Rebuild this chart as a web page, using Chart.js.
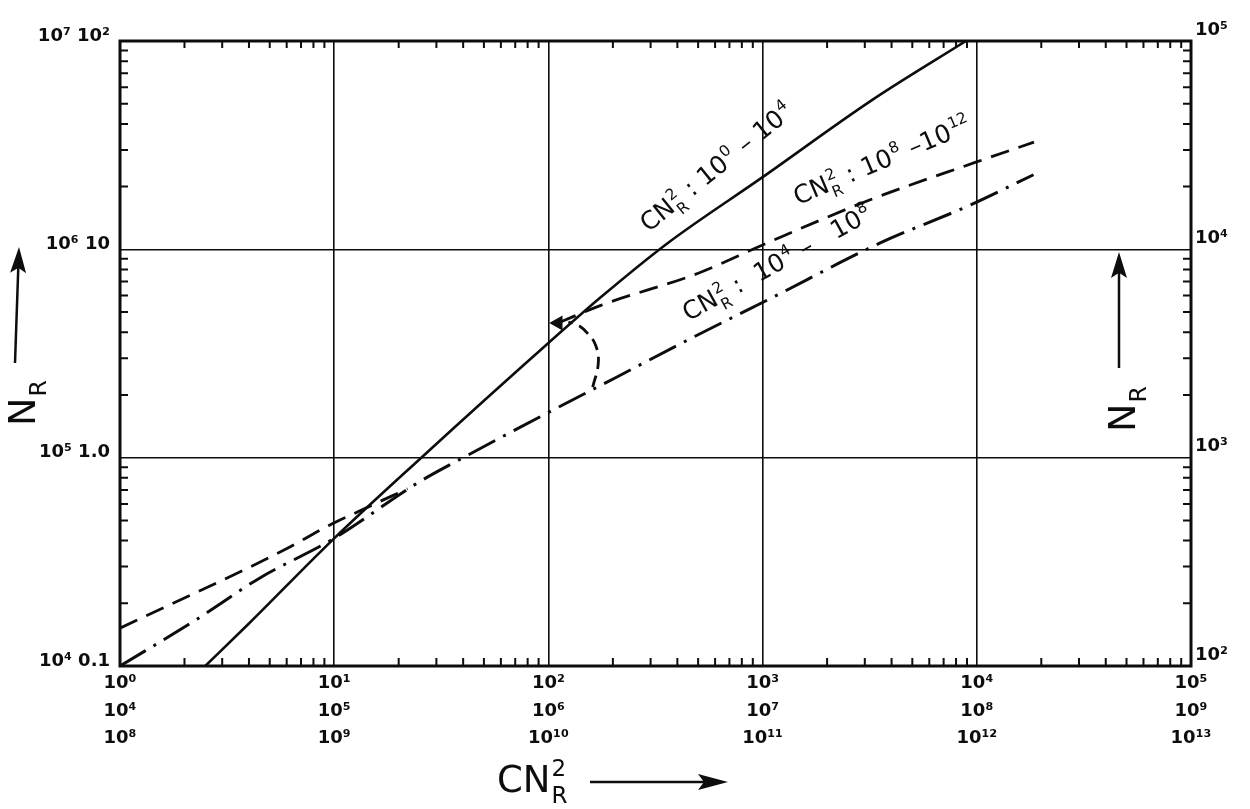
<!DOCTYPE html>
<html>
<head>
<meta charset="utf-8">
<script src="https://cdn.jsdelivr.net/npm/chart.js@4.4.1/dist/chart.umd.min.js"></script>
<style>
  html, body { margin: 0; padding: 0; background: #fff; }
  canvas { display: block; }
</style>
</head>
<body>
<canvas id="chart" width="1250" height="809"></canvas>
<script>
// decade ticks, three x rows (one per curve range)
const xTicks = [1, 10, 100, 1000, 10000, 100000];
const xTickLabels = [
  ["10⁰", "10⁴", "10⁸"],
  ["10¹", "10⁵", "10⁹"],
  ["10²", "10⁶", "10¹⁰"],
  ["10³", "10⁷", "10¹¹"],
  ["10⁴", "10⁸", "10¹²"],
  ["10⁵", "10⁹", "10¹³"]
];
const yTicks = [0.1, 1, 10, 100];
const yTickLabels = ["10⁴ 0.1", "10⁵ 1.0", "10⁶ 10", "10⁷ 10²"];
const y2Ticks = [100, 1000, 10000, 100000];
const y2TickLabels = ["10²", "10³", "10⁴", "10⁵"];

// CN_R^2 : 10^0 - 10^4  (solid)
const solidX = [2.5, 4, 10, 25.5, 100, 176, 360, 1000, 3240, 8900];
const solidY = [0.1, 0.16, 0.41, 1.0, 3.55, 5.9, 10.7, 22.2, 52, 100];

// CN_R^2 : 10^8 - 10^12  (dashed, upper branch and low end)
const dashUpperX = [111, 177, 504, 1000, 3180, 9900, 18500];
const dashUpperY = [4.43, 5.4, 7.7, 10.5, 17.3, 26.2, 32.7];
const dashLowX = [1, 5.83, 9.5, 12.9, 22];
const dashLowY = [0.152, 0.36, 0.474, 0.55, 0.71];

// CN_R^2 : 10^4 - 10^8  (dash-dot)
const dashDotX = [1, 2.19, 4.48, 10, 24.7, 40, 99, 209, 447, 1050, 3520, 9300, 18400];
const dashDotY = [0.1, 0.163, 0.264, 0.41, 0.76, 1.0, 1.64, 2.44, 3.67, 5.7, 10.7, 16.3, 22.8];

// dashed arc joining the two branches
const arcX = [161, 171, 166, 152, 137, 124];
const arcY = [2.18, 2.85, 3.47, 3.96, 4.34, 4.48];

const INK = "#0d0d0d";
const FONT = "'DejaVu Sans', sans-serif";

function pts(xs, ys) {
  return xs.map((x, i) => ({ x: x, y: ys[i] }));
}

// text with CN^2_R style stacked sup/sub
function drawRich(ctx, segs, x, y, angle, size) {
  ctx.save();
  ctx.translate(x, y);
  ctx.rotate(angle);
  ctx.fillStyle = INK;
  ctx.textBaseline = "alphabetic";
  ctx.textAlign = "left";
  let cx = 0;
  const small = size * 0.62;
  segs.forEach(s => {
    if (s.t) {
      ctx.font = size + "px " + FONT;
      ctx.fillText(s.t, cx, 0);
      cx += ctx.measureText(s.t).width;
    } else {
      ctx.font = small + "px " + FONT;
      let w = 0;
      if (s.sup) {
        ctx.fillText(s.sup, cx + 1, -size * 0.42);
        w = ctx.measureText(s.sup).width;
      }
      if (s.sub) {
        ctx.fillText(s.sub, cx + 1, size * 0.3);
        w = Math.max(w, ctx.measureText(s.sub).width);
      }
      cx += w + 2;
    }
  });
  ctx.restore();
}

function arrow(ctx, x1, y1, x2, y2, head, half) {
  const a = Math.atan2(y2 - y1, x2 - x1);
  ctx.save();
  ctx.strokeStyle = INK;
  ctx.fillStyle = INK;
  ctx.lineWidth = 2.5;
  ctx.beginPath();
  ctx.moveTo(x1, y1);
  ctx.lineTo(x2 - head * Math.cos(a) * 0.6, y2 - head * Math.sin(a) * 0.6);
  ctx.stroke();
  ctx.translate(x2, y2);
  ctx.rotate(a);
  ctx.beginPath();
  ctx.moveTo(0, 0);
  ctx.lineTo(-head, -half);
  ctx.lineTo(-head * 0.8, 0);
  ctx.lineTo(-head, half);
  ctx.closePath();
  ctx.fill();
  ctx.restore();
}

const decor = {
  id: "decor",
  afterDatasetsDraw(chart) {
    const ctx = chart.ctx;
    const a = chart.chartArea;
    const x = chart.scales.x, y = chart.scales.y;
    ctx.save();
    ctx.strokeStyle = INK;

    // minor ticks pointing inward on all four sides
    ctx.lineWidth = 2;
    ctx.beginPath();
    for (let k = 0; k < 5; k++) {
      for (let m = 2; m <= 9; m++) {
        const px = x.getPixelForValue(m * Math.pow(10, k));
        ctx.moveTo(px, a.bottom); ctx.lineTo(px, a.bottom - 8);
        ctx.moveTo(px, a.top); ctx.lineTo(px, a.top + 7);
      }
    }
    for (let k = -1; k < 2; k++) {
      for (let m = 2; m <= 9; m++) {
        const py = y.getPixelForValue(m * Math.pow(10, k));
        ctx.moveTo(a.left, py); ctx.lineTo(a.left + 8, py);
        ctx.moveTo(a.right, py); ctx.lineTo(a.right - 8, py);
      }
    }
    ctx.stroke();

    // frame
    ctx.lineWidth = 3;
    ctx.strokeRect(a.left, a.top, a.right - a.left, a.bottom - a.top);
    ctx.restore();

    // curve labels
    const deg = Math.PI / 180;
    drawRich(ctx, [{ t: "CN" }, { sup: "2", sub: "R" }, { t: " : 10" }, { sup: "0" }, { t: " – 10" }, { sup: "4" }],
      x.getPixelForValue(293), y.getPixelForValue(12.0), -39 * deg, 25);
    drawRich(ctx, [{ t: "CN" }, { sup: "2", sub: "R" }, { t: " : 10" }, { sup: "8" }, { t: " –10" }, { sup: "12" }],
      x.getPixelForValue(1458), y.getPixelForValue(16.3), -23 * deg, 25);
    drawRich(ctx, [{ t: "CN" }, { sup: "2", sub: "R" }, { t: " :  10" }, { sup: "4" }, { t: " –   10" }, { sup: "8" }],
      x.getPixelForValue(450), y.getPixelForValue(4.5), -29 * deg, 25);

    // axis titles and arrows
    drawRich(ctx, [{ t: "N" }, { sub: "R" }], 35, 426, -90 * deg, 38);
    arrow(ctx, 15, 363, 19, 247, 26, 8);
    drawRich(ctx, [{ t: "N" }, { sub: "R" }], 1135, 432, -90 * deg, 38);
    arrow(ctx, 1119, 368, 1119, 252, 26, 8);
    drawRich(ctx, [{ t: "CN" }, { sup: "2", sub: "R" }], 497, 792, 0, 37);
    arrow(ctx, 590, 782, 728, 782, 30, 8);
  }
};

new Chart(document.getElementById("chart"), {
  type: "scatter",
  data: {
    datasets: [
      {
        data: pts(solidX, solidY), showLine: true, borderColor: INK, borderWidth: 2.6,
        pointRadius: 0, cubicInterpolationMode: "monotone"
      },
      {
        data: pts(dashUpperX, dashUpperY), showLine: true, borderColor: INK, borderWidth: 2.8,
        borderDash: [19, 10], cubicInterpolationMode: "monotone",
        pointRadius: c => c.dataIndex === 0 ? 6 : 0, pointStyle: "triangle", rotation: 270,
        pointBackgroundColor: INK, pointBorderColor: INK
      },
      {
        data: pts(dashLowX, dashLowY), showLine: true, borderColor: INK, borderWidth: 2.8,
        borderDash: [19, 10], pointRadius: 0, cubicInterpolationMode: "monotone"
      },
      {
        data: pts(dashDotX, dashDotY), showLine: true, borderColor: INK, borderWidth: 3,
        borderDash: [30, 9, 3, 9], pointRadius: 0, cubicInterpolationMode: "monotone"
      },
      {
        data: pts(arcX, arcY), showLine: true, borderColor: INK, borderWidth: 2.8,
        borderDash: [12, 7], pointRadius: 0, tension: 0.45
      }
    ]
  },
  options: {
    responsive: false,
    animation: false,
    layout: { padding: { top: 41, right: 0, bottom: 0, left: 0 } },
    plugins: { legend: { display: false }, tooltip: { enabled: false } },
    scales: {
      x: {
        type: "logarithmic", min: 1, max: 100000, position: "bottom",
        afterBuildTicks: s => { s.ticks = xTicks.map(v => ({ value: v })); },
        afterFit: s => { s.height = 143; },
        ticks: {
          callback: v => xTickLabels[xTicks.indexOf(v)],
          autoSkip: false, maxRotation: 0, padding: 3, color: INK,
          font: { family: FONT, size: 18, weight: "bold", lineHeight: 1.55 }
        },
        grid: { color: INK, lineWidth: 1.6, drawTicks: false },
        border: { display: false }
      },
      y: {
        type: "logarithmic", min: 0.1, max: 100, position: "left",
        afterBuildTicks: s => { s.ticks = yTicks.map(v => ({ value: v })); },
        afterFit: s => { s.width = 120; },
        ticks: {
          callback: v => yTickLabels[yTicks.indexOf(v)],
          autoSkip: false, padding: 10, labelOffset: -5, color: INK,
          font: { family: FONT, size: 18, weight: "bold" }
        },
        grid: { color: INK, lineWidth: 1.6, drawTicks: false },
        border: { display: false }
      },
      y2: {
        type: "logarithmic", min: 100, max: 100000, position: "right",
        afterBuildTicks: s => { s.ticks = y2Ticks.map(v => ({ value: v })); },
        afterFit: s => { s.width = 59; },
        ticks: {
          callback: v => y2TickLabels[y2Ticks.indexOf(v)],
          autoSkip: false, padding: 4, labelOffset: -11, color: INK,
          font: { family: FONT, size: 18, weight: "bold" }
        },
        grid: { display: false, drawTicks: false },
        border: { display: false }
      }
    }
  },
  plugins: [decor]
});
</script>
</body>
</html>
